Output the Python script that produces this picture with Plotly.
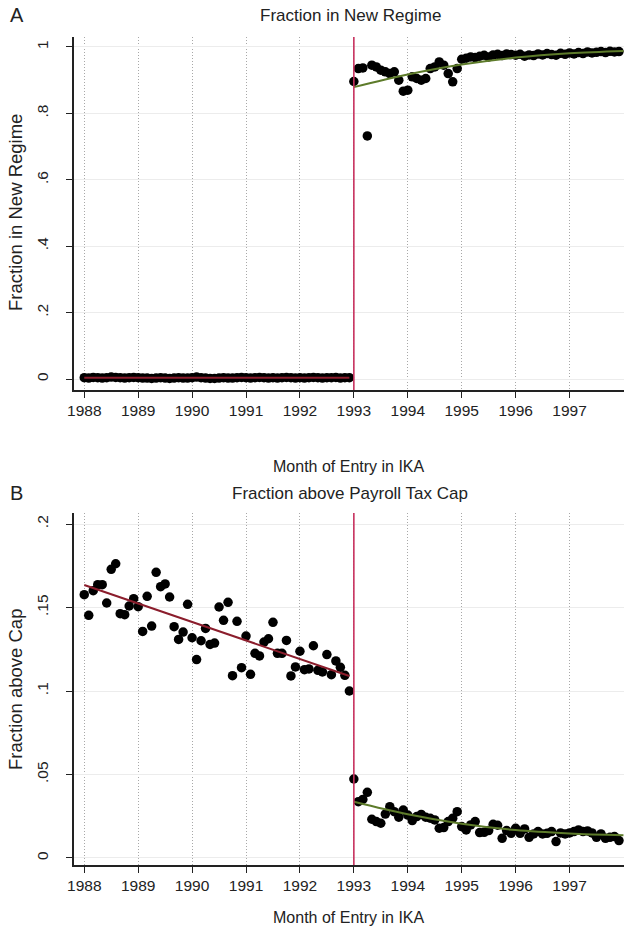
import plotly.graph_objects as go

# ---------------- data ----------------
years = [1988, 1989, 1990, 1991, 1992, 1993, 1994, 1995, 1996, 1997]
pre_months = [1988 + i / 12 for i in range(60)]     # Jan 1988 .. Dec 1992
post_months = [1993 + i / 12 for i in range(60)]    # Jan 1993 .. Dec 1997

regime_pre = [0.004, 0.003, 0.005, 0.004, 0.003, 0.004, 0.006, 0.005, 0.004, 0.003,
              0.004, 0.005, 0.004, 0.003, 0.003, 0.002, 0.003, 0.004, 0.003, 0.002,
              0.003, 0.004, 0.003, 0.003, 0.004, 0.006, 0.004, 0.003, 0.002, 0.002,
              0.003, 0.004, 0.003, 0.003, 0.004, 0.005, 0.004, 0.003, 0.004, 0.005,
              0.004, 0.003, 0.004, 0.003, 0.004, 0.005, 0.004, 0.003, 0.004, 0.003,
              0.004, 0.005, 0.004, 0.003, 0.004, 0.004, 0.005, 0.003, 0.004, 0.004]
regime_post = [0.896, 0.935, 0.937, 0.732, 0.945, 0.940, 0.930, 0.925, 0.920, 0.925,
               0.900, 0.867, 0.870, 0.910, 0.905, 0.900, 0.905, 0.935, 0.940, 0.955,
               0.945, 0.920, 0.895, 0.935, 0.963, 0.966, 0.970, 0.968, 0.972, 0.975,
               0.970, 0.976, 0.978, 0.974, 0.979, 0.977, 0.975, 0.978, 0.972, 0.976,
               0.974, 0.979, 0.976, 0.980, 0.977, 0.975, 0.981, 0.978, 0.982, 0.979,
               0.983, 0.980, 0.985, 0.982, 0.984, 0.986, 0.983, 0.987, 0.985, 0.986]
regime_fit_pre_x = [1988.0, 1992.917]
regime_fit_pre = [0.004, 0.004]
regime_fit_post_x = [1993, 1994, 1995, 1996, 1997, 1998]
regime_fit_post = [0.879, 0.917, 0.947, 0.968, 0.981, 0.988]

cap_pre = [0.1577, 0.1453, 0.1601, 0.1637, 0.1637, 0.1527, 0.1729, 0.1762, 0.1463, 0.1457,
           0.1509, 0.1553, 0.1505, 0.1357, 0.1567, 0.1389, 0.1711, 0.1625, 0.1641, 0.1563,
           0.1385, 0.1309, 0.1353, 0.1519, 0.1319, 0.1188, 0.1301, 0.1375, 0.1279, 0.1287,
           0.1503, 0.1423, 0.1531, 0.1092, 0.1417, 0.1140, 0.1329, 0.1100, 0.1226, 0.1210,
           0.1293, 0.1313, 0.1411, 0.1226, 0.1226, 0.1303, 0.1090, 0.1144, 0.1238, 0.1128,
           0.1132, 0.1271, 0.1124, 0.1114, 0.1218, 0.1098, 0.1180, 0.1142, 0.1094, 0.1000]
cap_post = [0.0473, 0.0337, 0.0351, 0.0393, 0.0232, 0.0218, 0.0208, 0.0263, 0.0307, 0.0277,
            0.0244, 0.0287, 0.0257, 0.0224, 0.0248, 0.0261, 0.0244, 0.0238, 0.0228, 0.0178,
            0.0182, 0.0218, 0.0238, 0.0277, 0.0188, 0.0168, 0.0198, 0.0218, 0.0152, 0.0154,
            0.0164, 0.0202, 0.0196, 0.0118, 0.0164, 0.0148, 0.0178, 0.0148, 0.0174, 0.0124,
            0.0144, 0.0158, 0.0144, 0.0148, 0.0158, 0.0098, 0.0150, 0.0144, 0.0150, 0.0158,
            0.0168, 0.0158, 0.0162, 0.0150, 0.0124, 0.0144, 0.0118, 0.0124, 0.0128, 0.0104]
cap_fit_pre_x = [1988.0, 1992.917]
cap_fit_pre = [0.1635, 0.1090]
cap_fit_post_x = [1993, 1994, 1995, 1996, 1997, 1998]
cap_fit_post = [0.0337, 0.0262, 0.0205, 0.0167, 0.0147, 0.0136]

regime_ticks = [0, 0.2, 0.4, 0.6, 0.8, 1]
regime_ticktext = ["0", ".2", ".4", ".6", ".8", "1"]
cap_ticks = [0, 0.05, 0.1, 0.15, 0.2]
cap_ticktext = ["0", ".05", ".1", ".15", ".2"]

# ---------------- styling ----------------
FONT = "Arial, Liberation Sans, sans-serif"
RED_LINE = "#c8325f"
PRE_FIT = "#8b1d2c"
POST_FIT = "#5d7b2a"
W, H = 624, 928

fig = go.Figure()

def add_panel(xa, ya, pre, post, fpx, fp, fqx, fq):
    fig.add_trace(go.Scatter(x=pre_months, y=pre, mode="markers",
                             marker=dict(color="black", size=9.5),
                             xaxis=xa, yaxis=ya, showlegend=False))
    fig.add_trace(go.Scatter(x=post_months, y=post, mode="markers",
                             marker=dict(color="black", size=9.5),
                             xaxis=xa, yaxis=ya, showlegend=False))
    fig.add_trace(go.Scatter(x=fpx, y=fp, mode="lines",
                             line=dict(color=PRE_FIT, width=2),
                             xaxis=xa, yaxis=ya, showlegend=False))
    fig.add_trace(go.Scatter(x=fqx, y=fq, mode="lines", line_shape="spline",
                             line=dict(color=POST_FIT, width=2),
                             xaxis=xa, yaxis=ya, showlegend=False))

add_panel("x", "y", regime_pre, regime_post, regime_fit_pre_x, regime_fit_pre,
          regime_fit_post_x, regime_fit_post)
add_panel("x2", "y2", cap_pre, cap_post, cap_fit_pre_x, cap_fit_pre,
          cap_fit_post_x, cap_fit_post)

def px_dom(top, bottom):
    return [1 - bottom / H, 1 - top / H]

xcommon = dict(range=[1987.81, 1998.01], tickvals=years, ticktext=[str(y) for y in years],
               showgrid=True, gridcolor="#a8a8a8", griddash="1px,2px", gridwidth=1,
               showline=True, linecolor="#222222", linewidth=1.5,
               ticks="outside", ticklen=6, tickcolor="#222222",
               tickfont=dict(family=FONT, size=15.5, color="#222222"),
               zeroline=False, automargin=False)
ycommon = dict(showgrid=True, gridcolor="#ececec", gridwidth=1,
               showline=True, linecolor="#222222", linewidth=1.5,
               ticks="outside", ticklen=6, tickcolor="#222222", tickangle=-90,
               ticklabelstandoff=12,
               tickfont=dict(family=FONT, size=15.5, color="#222222"),
               zeroline=False, automargin=False)

fig.update_layout(
    width=W, height=H,
    margin=dict(l=74, r=0, t=0, b=0),
    paper_bgcolor="white", plot_bgcolor="white",
    xaxis=dict(domain=[0, 1], anchor="y", **xcommon),
    yaxis=dict(domain=px_dom(37, 390), anchor="x", range=[-0.033, 1.03],
               tickvals=regime_ticks, ticktext=regime_ticktext, **ycommon),
    xaxis2=dict(domain=[0, 1], anchor="y2", **xcommon),
    yaxis2=dict(domain=px_dom(513, 865), anchor="x2", range=[-0.0042, 0.2066],
                tickvals=cap_ticks, ticktext=cap_ticktext, **ycommon),
)

# vertical line at the 1993 reform
for xr, yr in (("x", "y domain"), ("x2", "y2 domain")):
    fig.add_shape(type="line", xref=xr, yref=yr, x0=1993, x1=1993, y0=0, y1=1,
                  line=dict(color=RED_LINE, width=1.6))

def ann(text, x, y, size, angle=0, xanchor="center"):
    fig.add_annotation(text=text, xref="paper", yref="paper",
                       x=(x - 74) / (W - 74), y=1 - y / H, showarrow=False,
                       textangle=angle, xanchor=xanchor, yanchor="middle",
                       font=dict(family=FONT, size=size, color="#222222"))

ann("A", 8, 15, 20, xanchor="left")
ann("Fraction in New Regime", 350, 15, 17)
ann("Month of Entry in IKA", 349, 466, 16)
ann("Fraction in New Regime", 15, 213, 18.5, angle=-90)
ann("B", 8, 493, 20, xanchor="left")
ann("Fraction above Payroll Tax Cap", 350, 493, 17)
ann("Month of Entry in IKA", 349, 917, 16)
ann("Fraction above Cap", 15, 690, 18.5, angle=-90)

fig.write_html("out.html", config={"displayModeBar": False},
               post_script="document.body.style.margin='0';"
                           "document.body.style.overflow='hidden';")
